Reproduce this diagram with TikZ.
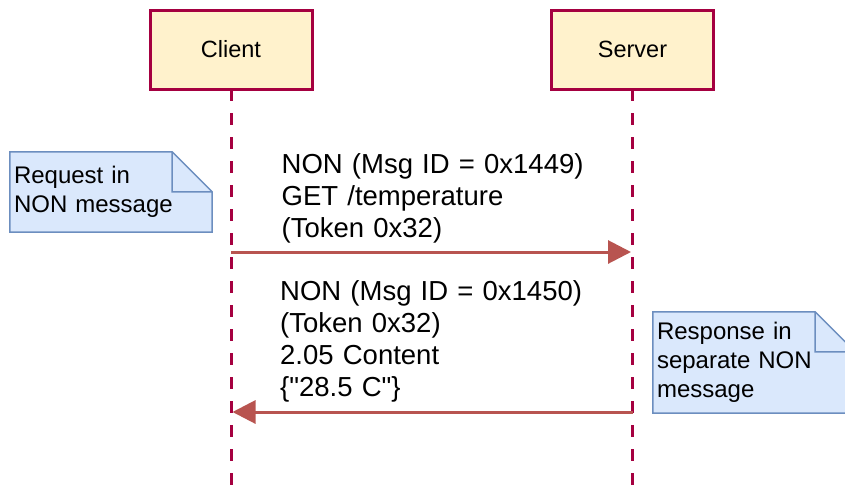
\documentclass[tikz,border=0pt]{standalone}
\usepackage{fontspec}
\setmainfont{Liberation Sans}
% same family without the TeX quote mapping, for straight double quotes
\newfontfamily\plainsans{Liberation Sans}
\usetikzlibrary{arrows.meta}
\definecolor{lifered}{HTML}{A50040}
\definecolor{actorfill}{HTML}{FFF2CC}
\definecolor{notefill}{HTML}{DAE8FC}
\definecolor{noteline}{HTML}{6C8EBF}
\definecolor{msgred}{HTML}{B85450}

% dog-eared note outline around a named node
\newcommand\dogear[1]{%
  \fill[notefill] (#1.north west) -- ([xshift=-40pt]#1.north east)
    -- ([yshift=-40pt]#1.north east) -- (#1.south east) -- (#1.south west) -- cycle;
  \draw[noteline, line width=1.5pt, line join=miter]
    (#1.north west) -- ([xshift=-40pt]#1.north east)
    -- ([yshift=-40pt]#1.north east) -- (#1.south east) -- (#1.south west) -- cycle
    ([xshift=-40pt]#1.north east) -- ([xshift=-40pt,yshift=-40pt]#1.north east)
    -- ([yshift=-40pt]#1.north east);
}

\begin{document}
\begin{tikzpicture}[x=1pt,y=-1pt,
  actor/.style={draw=lifered, fill=actorfill, line width=3pt,
    minimum width=162pt, minimum height=79pt, inner sep=0pt,
    font=\fontsize{23.5}{28}\selectfont},
  lifeline/.style={draw=lifered, line width=3pt, dash pattern=on 12pt off 12pt},
  message/.style={draw=msgred, line width=3pt,
    -{Triangle[length=23pt,width=23pt]}, shorten >=1.5pt},
  msglabel/.style={anchor=base west, inner sep=0pt, text width=340pt,
    align=left, font=\plainsans\fontsize{27.5}{32}\selectfont},
  note/.style={minimum width=202pt, inner xsep=4pt, inner ysep=0pt,
    text width=194pt, align=left, font=\fontsize{24}{29}\selectfont},
]
\useasboundingbox (0,0) rectangle (845,488);
\clip (0,0) rectangle (845,488);

% participants
\coordinate (clientend) at (231,490);
\coordinate (serverend) at (632.5,490);
\draw[lifeline] (231,89) -- (clientend);
\draw[lifeline] (632.5,89) -- (serverend);
\node[actor] (client) at (231,49.5) {Client};
\node[actor] (server) at (632.5,49.5) {Server};

% points where messages leave and reach the lifelines
\coordinate (reqfrom) at (client.south |- 0,252);
\coordinate (reqto)   at (server.south |- 0,252);
\coordinate (resfrom) at (server.south |- 0,412);
\coordinate (resto)   at (client.south |- 0,412);

% notes
\node[note, minimum height=80pt] (reqnote) at (111,192) {};
\dogear{reqnote}
\node[note, anchor=west, minimum height=80pt] at (reqnote.west)
  {Request in\\NON message};

\node[note, minimum height=101pt] (resnote) at (754,362.5) {};
\dogear{resnote}
\node[note, anchor=west, minimum height=101pt] at (resnote.west)
  {Response in\\separate NON\\message};

% messages
\draw[message] (reqfrom) -- (reqto);
\node[msglabel] (reqlabel) at (281.5,173)
  {NON (Msg ID = 0x1449)\\GET /temperature\\(Token 0x32)};

\draw[message] (resfrom) -- (resto);
\node[msglabel] (reslabel) at (280,300)
  {NON (Msg ID = 0x1450)\\(Token 0x32)\\2.05 Content\\\{"28.5 C"\}};
\end{tikzpicture}
\end{document}
